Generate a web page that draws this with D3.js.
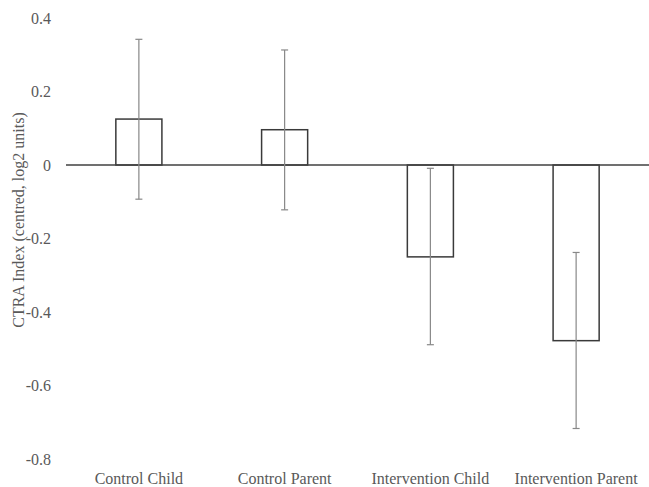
<!DOCTYPE html>
<html>
<head>
<meta charset="utf-8">
<script src="https://cdn.jsdelivr.net/npm/d3@7"></script>
<style>
  body { margin: 0; background: #fff; }
</style>
</head>
<body>
<svg></svg>
<script>
// data
var categories = ['Control Child', 'Control Parent', 'Intervention Child', 'Intervention Parent'];
var means = [0.125, 0.096, -0.25, -0.478];
var errLow = [-0.093, -0.122, -0.489, -0.717];
var errHigh = [0.342, 0.313, -0.009, -0.238];
var yTicks = [0.4, 0.2, 0, -0.2, -0.4, -0.6, -0.8];

var svgWidth = 649, svgHeight = 487;
var plotLeft = 66, plotRight = 649, plotTop = 18, plotBottom = 459;
var serif = "'Liberation Serif', 'Times New Roman', Times, 'DejaVu Serif', serif";

var svg = d3.select('svg')
    .attr('width', svgWidth)
    .attr('height', svgHeight)
    .attr('font-family', serif);

var x = d3.scaleBand()
    .domain(categories)
    .range([plotLeft, plotRight])
    .paddingInner(0.684)
    .paddingOuter(0.342);

var y = d3.scaleLinear()
    .domain([-0.8, 0.4])
    .range([plotBottom, plotTop]);

// y tick labels
svg.selectAll('.ytick')
    .data(yTicks)
    .enter()
    .append('text')
    .attr('class', 'ytick')
    .attr('x', 51)
    .attr('y', function(d){ return y(d); })
    .attr('dy', '0.35em')
    .attr('text-anchor', 'end')
    .attr('font-family', serif)
    .attr('font-size', 16)
    .attr('fill', '#595959')
    .text(function(d){ return d === 0 ? '0' : d.toFixed(1); });

// bars
svg.selectAll('rect')
    .data(means)
    .enter()
    .append('rect')
    .attr('x', function(d, i){ return x(categories[i]); })
    .attr('width', x.bandwidth())
    .attr('y', function(d){ return Math.min(y(d), y(0)); })
    .attr('height', function(d){ return Math.abs(y(d) - y(0)); })
    .style('fill', 'none')
    .style('stroke', '#3a3a3a')
    .style('stroke-width', 1.5);

// zero line
svg.append('line')
    .attr('x1', plotLeft)
    .attr('x2', plotRight)
    .attr('y1', y(0))
    .attr('y2', y(0))
    .style('stroke', '#404040')
    .style('stroke-width', 1.5);

// error bars
var cx = function(i){ return x(categories[i]) + x.bandwidth() / 2; };
var err = svg.append('g')
    .style('stroke', '#888')
    .style('stroke-width', 1.2);

categories.forEach(function(c, i){
    err.append('line')
        .attr('x1', cx(i)).attr('x2', cx(i))
        .attr('y1', y(errLow[i])).attr('y2', y(errHigh[i]));
    err.append('line')
        .attr('x1', cx(i) - 3.5).attr('x2', cx(i) + 3.5)
        .attr('y1', y(errLow[i])).attr('y2', y(errLow[i]));
    err.append('line')
        .attr('x1', cx(i) - 3.5).attr('x2', cx(i) + 3.5)
        .attr('y1', y(errHigh[i])).attr('y2', y(errHigh[i]));
});

// category labels
svg.selectAll('.xlab')
    .data(categories)
    .enter()
    .append('text')
    .attr('class', 'xlab')
    .attr('x', function(d){ return x(d) + x.bandwidth() / 2; })
    .attr('y', 484)
    .attr('text-anchor', 'middle')
    .attr('font-family', serif)
    .attr('font-size', 16)
    .attr('fill', '#595959')
    .text(function(d){ return d; });

// y axis title
svg.append('text')
    .attr('transform', 'translate(24,220) rotate(-90)')
    .attr('text-anchor', 'middle')
    .attr('font-family', serif)
    .attr('font-size', 16)
    .attr('fill', '#595959')
    .text('CTRA Index (centred, log2 units)');
</script>
</body>
</html>
